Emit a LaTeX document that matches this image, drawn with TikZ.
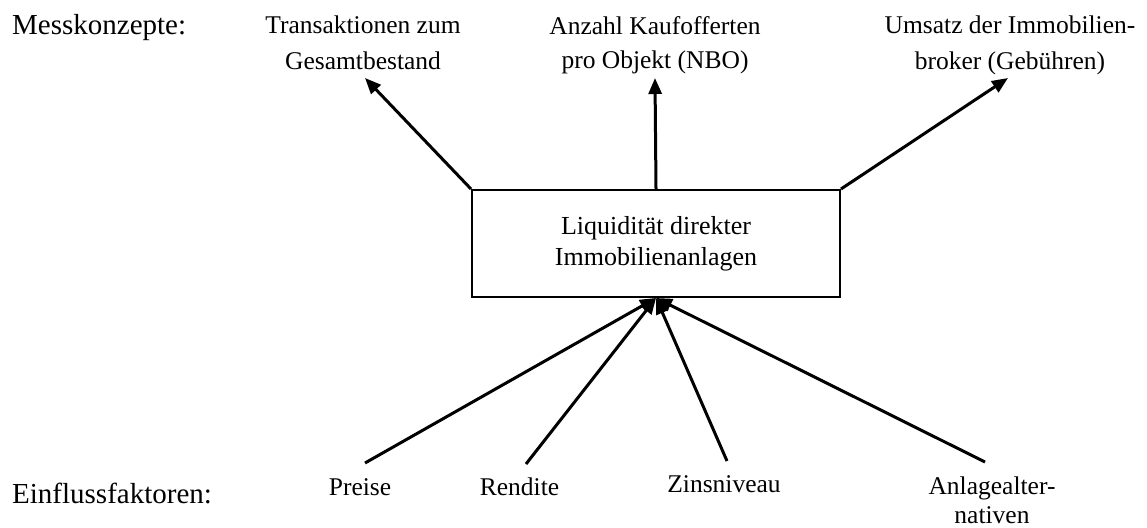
\documentclass[tikz,border=0pt]{standalone}
\usepackage{fontspec}
\setmainfont{Liberation Serif}
\usetikzlibrary{arrows.meta}
\begin{document}
\begin{tikzpicture}[x=1pt,y=-1pt,
  lbl/.style={font=\fontsize{29}{34}\selectfont, anchor=base west, inner sep=0},
  txt/.style={font=\fontsize{25.5}{36}\selectfont, align=center, inner sep=0, anchor=base},
  arr/.style={line width=3pt, -{Triangle[length=16pt,width=13pt]}},
  box/.style={draw, line width=2pt, minimum width=368pt, minimum height=107pt, inner sep=0,
    font=\fontsize{26}{31}\selectfont, align=center}]
\useasboundingbox (0,0) rectangle (1147,527);

\node[lbl] (mk) at (12,35) {Messkonzepte:};
\node[lbl] (ef) at (12,503) {Einflussfaktoren:};

\node[box] (liq) at (656,243.5) {Liquidität direkter\\Immobilienanlagen};

\node[txt] (t1) at (363,70) {Transaktionen zum\\Gesamtbestand};
\node[txt, font=\fontsize{25.5}{33}\selectfont] (t2) at (655,68) {Anzahl Kaufofferten\\pro Objekt (NBO)};
\node[txt] (t3) at (1010,70) {Umsatz der Immobilien-\\broker (Gebühren)};

\node[txt] (preise) at (360,495) {Preise};
\node[txt] (rendite) at (519.5,495) {Rendite};
\node[txt] (zins) at (724,492) {Zinsniveau};
\node[txt, font=\fontsize{25.5}{29}\selectfont] (anl) at (992,523) {Anlagealter-\\nativen};

\coordinate (e1) at (365,78);
\coordinate (e2) at (655,78);
\coordinate (e3) at (1008,78);
\draw[arr] (liq.north west) -- (e1);
\draw[arr] (liq.north) -- (e2);
\draw[arr] (liq.north east) -- (e3);

\coordinate (s1) at (365,463);
\coordinate (s2) at (526,464);
\coordinate (s3) at (727,461);
\coordinate (s4) at (985,462);
\draw[arr] (s1) -- (liq.south);
\draw[arr] (s2) -- (liq.south);
\draw[arr] (s3) -- (liq.south);
\draw[arr] (s4) -- (liq.south);
\end{tikzpicture}
\end{document}
